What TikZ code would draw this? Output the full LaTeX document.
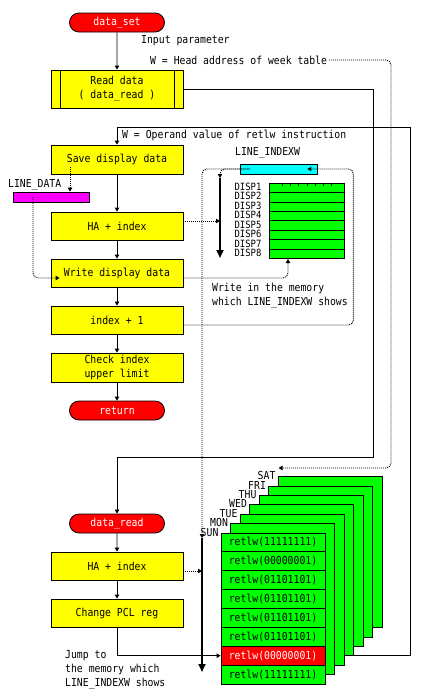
\documentclass[tikz,border=0pt]{standalone}
\usepackage{fontspec}
\setmainfont{DejaVu Sans Mono}[FakeStretch=0.89]
\usepackage{tikz}
\usetikzlibrary{shapes,shapes.misc}
\usetikzlibrary{calc,backgrounds}
\usetikzlibrary{arrows.meta,positioning}
\definecolor{procyellow}{RGB}{255,255,0}
\definecolor{termred}{RGB}{255,0,0}
\definecolor{memgreen}{RGB}{0,255,0}
\definecolor{idxcyan}{RGB}{0,255,255}
\definecolor{datamagenta}{RGB}{255,0,255}
\tikzstyle{procbox}=[shape=rectangle,draw=black,line width=0.8pt,fill=procyellow,minimum width=132pt,minimum height=28pt,inner sep=0pt,align=center]
\tikzstyle{termbox}=[shape=rounded rectangle,draw=black,line width=0.8pt,fill=termred,text=white,minimum width=95pt,minimum height=19pt,inner sep=0pt]
\tikzstyle{varbar}=[shape=rectangle,draw=black,line width=0.8pt,minimum height=10pt,inner sep=0pt]
\tikzstyle{disprow}=[shape=rectangle,draw=black,line width=0.8pt,fill=memgreen,minimum width=75pt,minimum height=9.45pt,inner sep=0pt]
\tikzstyle{displbl}=[anchor=east,inner sep=0pt,font=\fontsize{10}{10}\selectfont]
\tikzstyle{daylayer}=[shape=rectangle,draw=black,line width=0.8pt,fill=memgreen,minimum width=104pt,minimum height=151pt,inner sep=0pt]
\tikzstyle{memrow}=[shape=rectangle,draw=black,line width=0.8pt,minimum width=104pt,minimum height=18.875pt,inner sep=0pt]
\tikzstyle{note}=[anchor=west,inner sep=0pt,align=left]
\tikzstyle{flow}=[draw,line width=0.8pt,-{Triangle[length=4pt,width=4.5pt]}]
\tikzstyle{dotflow}=[draw,line width=0.9pt,dash pattern=on 1pt off 1pt,rounded corners=5pt,-{Triangle[length=4pt,width=4.5pt]}]
\tikzstyle{bigarrow}=[draw,line width=2.2pt,-{Triangle[length=8pt,width=7pt]}]

\begin{document}
\begin{tikzpicture}[x=1pt,y=-1pt,font=\fontsize{11}{14}\selectfont]
\useasboundingbox (0,0) rectangle (423,697);

% main routine
\node[termbox] (dataset) at (117,22.5){data\_set};
\node[procbox,minimum height=38pt] (readdata) at (117,89){Read data\\( data\_read )};
\draw[line width=0.8pt] ([xshift=10pt]readdata.north west) -- ([xshift=10pt]readdata.south west);
\draw[line width=0.8pt] ([xshift=-9pt]readdata.north east) -- ([xshift=-9pt]readdata.south east);
\node[procbox,minimum height=29pt] (savedisp) at (117,159.5){Save display data};
\node[procbox] (haindex) at (117,226){HA + index};
\node[procbox] (writedisp) at (117,273){Write display data};
\node[procbox] (indexinc) at (117,320){index + 1};
\node[procbox,minimum height=29pt] (checklimit) at (117,367.5){Check index\\upper limit};
\node[termbox] (return) at (117,410.5){return};

\node[note] (inparam) at (141,41){Input parameter};
\node[note] (headtxt) at (150,60){W = Head address of week table};
\node[note] (operand) at (122,135){W = Operand value of retlw instruction};

% variables
\node[note] (linedatatxt) at (8,185){LINE\_DATA};
\node[varbar,fill=datamagenta,minimum width=76pt] (linedata) at (51,197){};
\node[note] (lineidxtxt) at (235,153){LINE\_INDEXW};
\node[varbar,fill=idxcyan,minimum width=77pt] (lineindexw) at (278.5,169){};

% display memory
\foreach \i in {1,...,8}
{
\node[disprow] (disp\i) at (306.5,178.3+9.45*\i){};
\node[displbl] (dl\i) at ([xshift=-7pt,yshift=1pt]disp\i.west){DISP\i};
}
\foreach \t in {0,...,6}
 \draw[line width=0.8pt] (282+8.3*\t,183) -- (282+8.3*\t,185.5);
\node[note] (writetxt) at (212,296){Write in the memory\\which LINE\_INDEXW shows};

\coordinate (dtop) at (220,178);
\coordinate (dbot) at (220,258);
\coordinate (ptop) at (202,538);
\coordinate (pbot) at (202,672);
\coordinate (callturn) at (373,457);
\coordinate (retturn) at (410,127);
\coordinate (satturn) at (391,468);
\coordinate (savetap) at (70,167);
\coordinate (linetap) at (33,197);

% data_read routine
\node[termbox] (dataread) at (117,523.5){data\_read};
\node[procbox] (haindexb) at (117,566){HA + index};
\node[procbox] (changepcl) at (117,613){Change PCL reg};
\node[note] (jumptxt) at (65,669.5){Jump to\\the memory which\\LINE\_INDEXW shows};

% week table
\foreach \d/\k in {SAT/6,FRI/5,THU/4,WED/3,TUE/2,MON/1,SUN/0}
{
\node[daylayer] (layer\k) at (273+9.5*\k,608.5-9.4*\k){};
\node[anchor=base east,inner sep=0pt] (lbl\d) at ([xshift=-2pt,yshift=-3.5pt]layer\k.north west){\d};
}
\foreach \v/\c/\tc [count=\i] in {11111111/memgreen/black,00000001/memgreen/black,01101101/memgreen/black,01101101/memgreen/black,01101101/memgreen/black,01101101/memgreen/black,00000001/termred/white,11111111/memgreen/black}
 \node[memrow,fill=\c,text=\tc] (row\i) at (273,523.56+18.875*\i){retlw(\v)};

\path
(dataset) edge [flow] (readdata)
(savedisp) edge [flow] (haindex)
(haindex) edge [flow] (writedisp)
(writedisp) edge [flow] (indexinc)
(indexinc) edge [flow] (checklimit)
(checklimit) edge [flow] (return)
(dataread) edge [flow] (haindexb)
(haindexb) edge [flow] (changepcl);

\draw[flow] (readdata.east) -| (callturn) -| (dataread.north);
\draw[flow] (changepcl.south) |- (row7.west);
\begin{pgfonlayer}{background}
\draw[flow] (row7.east) -| (retturn) -| (savedisp.north);
\end{pgfonlayer}

\draw[bigarrow] (dtop) -- (dbot);
\draw[bigarrow] (ptop) -- (pbot);

\draw[dotflow] (savetap) -- (savetap |- linedata.north);
\draw[dotflow] (linetap) |- ([xshift=9pt,yshift=-5pt]writedisp.west);
\draw[dotflow] ([yshift=5pt]haindex.east) -- ([yshift=5pt]haindex.east -| dtop);
\draw[dotflow] ([yshift=-5pt]writedisp.east) -| ([xshift=-18.5pt]disp8.south);
\draw[dotflow] ([yshift=-5pt]indexinc.east) -| ([xshift=36pt]lineindexw.east) -- ([xshift=-10pt]lineindexw.east);
\draw[dotflow] ([xshift=10pt]lineindexw.west) -| (dtop);
\draw[dotflow] ([xshift=10pt]lineindexw.west) -| (ptop);
\draw[dotflow] ([yshift=-5pt]haindexb.east) -- ([yshift=-5pt]haindexb.east -| ptop);
\draw[dotflow] ([xshift=2pt]headtxt.east) -| (satturn) -- ([xshift=3pt]satturn -| lblSAT.east);

\end{tikzpicture}
\end{document}
